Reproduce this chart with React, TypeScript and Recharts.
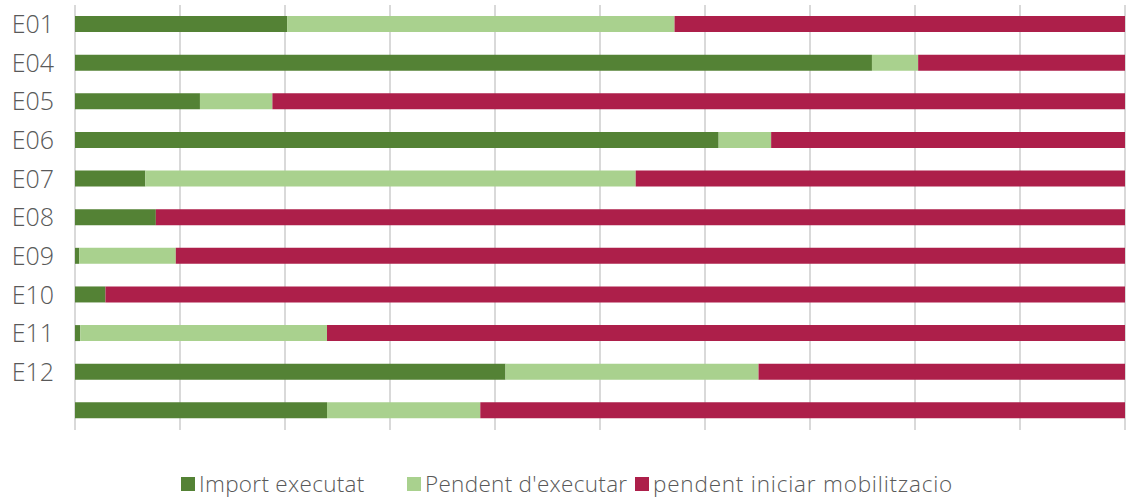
import React from "react";
import { BarChart, Bar, XAxis, YAxis, CartesianGrid, Legend } from "recharts";

const categories = ["E01", "E04", "E05", "E06", "E07", "E08", "E09", "E10", "E11", "E12", ""];
const importExecutat = [20.2, 75.9, 11.9, 61.3, 6.7, 7.7, 0.4, 2.9, 0.5, 41.0, 24.0];
const pendentExecutar = [36.9, 4.4, 6.9, 5.0, 46.7, 0, 9.2, 0, 23.5, 24.1, 14.6];
const pendentIniciar = [42.9, 19.7, 81.2, 33.7, 46.6, 92.3, 90.4, 97.1, 76.0, 34.9, 61.4];
const xTicks = [0, 0.1, 0.2, 0.3, 0.4, 0.5, 0.6, 0.7, 0.8, 0.9, 1];

const seriesNames = ["Import executat", "Pendent d'executar", "pendent iniciar mobilitzacio"];
const colors = ["#548235", "#a9d18e", "#ad1f4a"];

const data = categories.map((c, i) => ({
  name: c,
  a: importExecutat[i],
  b: pendentExecutar[i],
  c: pendentIniciar[i],
}));

const FONT = "'Open Sans', sans-serif";
const itemWidths = [226, 228, 360];

const renderLegend = () => (
  <div style={{ display: "flex", width: 1136, boxSizing: "border-box", paddingLeft: 181, fontFamily: FONT, fontWeight: 300, fontSize: 22.5, color: "#595959" }}>
    {seriesNames.map((n, i) => (
      <div key={n} style={{ display: "flex", alignItems: "center", width: itemWidths[i], whiteSpace: "nowrap" }}>
        <div style={{ width: 14, height: 14, background: colors[i], marginRight: 4 }} />
        <span style={{ letterSpacing: i === 2 ? 0.8 : 0.3 }}>{n}</span>
      </div>
    ))}
  </div>
);

export default function App() {
  return (
    <div style={{ position: "absolute", left: 0, top: 0, background: "#fff" }}>
      <BarChart
        width={1136}
        height={499}
        data={data}
        layout="vertical"
        stackOffset="expand"
        margin={{ top: 5, right: 11, left: 0, bottom: 38 }}
        barSize={16}
      >
        <CartesianGrid horizontal={false} vertical={true} stroke="#d9d9d9" strokeWidth={2} />
        <XAxis type="number" domain={[0, 1]} ticks={xTicks} hide />
        <YAxis
          type="category"
          dataKey="name"
          width={75}
          axisLine={false}
          tickLine={false}
          tickSize={0}
          tickMargin={21}
          interval={0}
          tick={{ fill: "#595959", fontSize: 25, fontFamily: FONT, fontWeight: 300 }}
        />
        <Legend
          verticalAlign="bottom"
          content={renderLegend}
          wrapperStyle={{ bottom: 0, left: 0, width: 1136 }}
        />
        <Bar dataKey="a" name={seriesNames[0]} stackId="s" fill={colors[0]} isAnimationActive={false} />
        <Bar dataKey="b" name={seriesNames[1]} stackId="s" fill={colors[1]} isAnimationActive={false} />
        <Bar dataKey="c" name={seriesNames[2]} stackId="s" fill={colors[2]} isAnimationActive={false} />
      </BarChart>
    </div>
  );
}
